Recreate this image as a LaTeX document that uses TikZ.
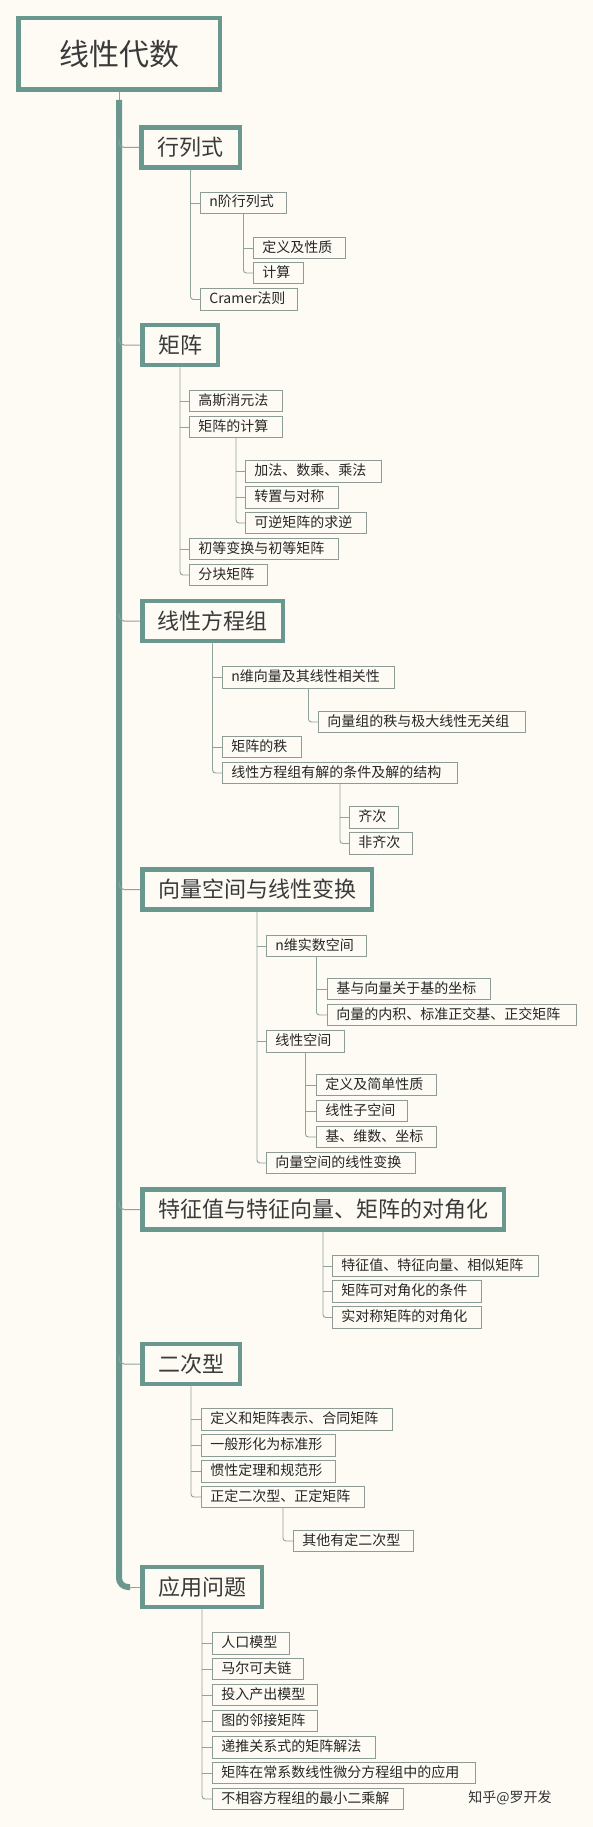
\documentclass[tikz,border=0pt]{standalone}
\usepackage{fontspec}
\setmainfont{Noto Sans CJK SC}
\usetikzlibrary{calc}
\definecolor{bg}{HTML}{FDFBF4}
\definecolor{teal1}{HTML}{6B988E}
\definecolor{subb}{HTML}{8D9C97}
\definecolor{lnk}{HTML}{8FA39C}
\definecolor{txt}{HTML}{3A3A3A}
\begin{document}
\begin{tikzpicture}[x=1pt,y=-1pt,
 l0/.style={draw=teal1, line width=4.5pt, fill=bg, minimum width=201.5pt, minimum height=71.5pt, inner sep=0pt, font=\fontsize{30}{30}\selectfont, text=txt},
 l1/.style={draw=teal1, line width=4.5pt, fill=bg, minimum height=40pt, minimum width=#1, inner sep=0pt, font=\fontsize{22}{22}\selectfont, text=txt},
 l2/.style={draw=subb, line width=0.9pt, fill=bg, anchor=west, text width=#1, align=left, inner xsep=9pt, inner ysep=0pt, minimum height=21.5pt, text height=11pt, text depth=3pt, font=\fontsize{14}{14}\selectfont, text=black!85},
 conn/.style={draw=lnk, line width=0.9pt, rounded corners=3pt},
 br/.style={draw=lnk, line width=1pt, rounded corners=5pt},
 trunk/.style={draw=teal1, line width=6pt, rounded corners=9pt},
]
\fill[bg] (0,0) rectangle (593,1827);
\useasboundingbox (0,0) rectangle (593,1827);

% root and level 1
\node[l0] (root) at (119,54) {线性代数};
\node[l1=98.5pt] (r1) at (190.5,147.5) {行列式};
\node[l1=75.5pt] (r2) at (180,345) {矩阵};
\node[l1=140.5pt] (r3) at (212.5,621) {线性方程组};
\node[l1=229.5pt] (r4) at (257,889.5) {向量空间与线性变换};
\node[l1=361.5pt] (r5) at (323,1209.5) {特征值与特征向量、矩阵的对角化};
\node[l1=97.5pt] (r6) at (191,1364) {二次型};
\node[l1=119.5pt] (r7) at (202,1587) {应用问题};

% trunk
\coordinate (ttop) at (119,100);
\draw[conn] (root.south) -- (ttop);
\draw[trunk] (ttop) |- ($(r7.west)+(-10,0)$);
\draw[conn] ($(r7.west)+(-11,0)$) -- (r7.west);
\foreach \r in {r1,r2,r3,r4,r5,r6}{
  \draw[br] ($(\r.west -| ttop)+(0,-8)$) |- (\r.west);
}

% 行列式
\node[l2=68pt] (a1) at (200,203) {n阶行列式};
\node[l2=74pt] (a11) at (253,248) {定义及性质};
\node[l2=32pt] (a12) at (253,273) {计算};
\node[l2=79pt] (a2) at (200,299.5) {Cramer法则};
\draw[conn] (r1.south) |- (a2.west);
\draw[conn] (r1.south |- a1.west) -- (a1.west);
\draw[conn] (a1.south) |- (a12.west);
\draw[conn] (a1.south |- a11.west) -- (a11.west);

% 矩阵
\node[l2=75pt] (b1) at (189,401) {高斯消元法};
\node[l2=75pt] (b2) at (189,427) {矩阵的计算};
\node[l2=118pt] (b21) at (245,471.5) {加法、数乘、乘法};
\node[l2=75pt] (b22) at (245,497.5) {转置与对称};
\node[l2=103pt] (b23) at (245,523) {可逆矩阵的求逆};
\node[l2=131pt] (b3) at (189,549) {初等变换与初等矩阵};
\node[l2=60pt] (b4) at (189,575) {分块矩阵};
\draw[conn] (r2.south) |- (b4.west);
\foreach \c in {b1,b2,b3}{\draw[conn] (r2.south |- \c.west) -- (\c.west);}
\draw[conn] (b2.south) |- (b23.west);
\foreach \c in {b21,b22}{\draw[conn] (b2.south |- \c.west) -- (\c.west);}

% 线性方程组
\node[l2=154pt] (c1) at (222,677.5) {n维向量及其线性相关性};
\node[l2=189pt] (c11) at (318,722) {向量组的秩与极大线性无关组};
\node[l2=61pt] (c2) at (222,747) {矩阵的秩};
\node[l2=217pt] (c3) at (222,773) {线性方程组有解的条件及解的结构};
\node[l2=31pt] (c31) at (349,817.5) {齐次};
\node[l2=45pt] (c32) at (349,843.5) {非齐次};
\draw[conn] (r3.south) |- (c3.west);
\foreach \c in {c1,c2}{\draw[conn] (r3.south |- \c.west) -- (\c.west);}
\draw[conn] (c1.south) |- (c11.west);
\draw[conn] (c3.south) |- (c32.west);
\draw[conn] (c3.south |- c31.west) -- (c31.west);

% 向量空间与线性变换
\node[l2=82pt] (d1) at (266,946) {n维实数空间};
\node[l2=145pt] (d11) at (327,989) {基与向量关于基的坐标};
\node[l2=231pt] (d12) at (327,1015) {向量的内积、标准正交基、正交矩阵};
\node[l2=60pt] (d2) at (266,1041.5) {线性空间};
\node[l2=102pt] (d21) at (316,1085) {定义及简单性质};
\node[l2=73pt] (d22) at (316,1111) {线性子空间};
\node[l2=102pt] (d23) at (316,1137) {基、维数、坐标};
\node[l2=131pt] (d3) at (266,1163) {向量空间的线性变换};
\draw[conn] (r4.south) |- (d3.west);
\foreach \c in {d1,d2}{\draw[conn] (r4.south |- \c.west) -- (\c.west);}
\draw[conn] (d1.south) |- (d12.west);
\draw[conn] (d1.south |- d11.west) -- (d11.west);
\draw[conn] (d2.south) |- (d23.west);
\foreach \c in {d21,d22}{\draw[conn] (d2.south |- \c.west) -- (\c.west);}

% 特征值
\node[l2=188pt] (e1) at (332,1266) {特征值、特征向量、相似矩阵};
\node[l2=131pt] (e2) at (332,1291.5) {矩阵可对角化的条件};
\node[l2=131pt] (e3) at (332,1317.5) {实对称矩阵的对角化};
\draw[conn] (r5.south) |- (e3.west);
\foreach \c in {e1,e2}{\draw[conn] (r5.south |- \c.west) -- (\c.west);}

% 二次型
\node[l2=173pt] (f1) at (201,1419.5) {定义和矩阵表示、合同矩阵};
\node[l2=116pt] (f2) at (201,1445.5) {一般形化为标准形};
\node[l2=116pt] (f3) at (201,1471.5) {惯性定理和规范形};
\node[l2=145pt] (f4) at (201,1497) {正定二次型、正定矩阵};
\node[l2=102pt] (f41) at (293,1541) {其他有定二次型};
\draw[conn] (r6.south) |- (f4.west);
\foreach \c in {f1,f2,f3}{\draw[conn] (r6.south |- \c.west) -- (\c.west);}
\draw[conn] (f4.south) |- (f41.west);

% 应用问题
\node[l2=59pt] (g1) at (212,1643.5) {人口模型};
\node[l2=73pt] (g2) at (212,1669) {马尔可夫链};
\node[l2=87pt] (g3) at (212,1695) {投入产出模型};
\node[l2=87pt] (g4) at (212,1721) {图的邻接矩阵};
\node[l2=145pt] (g5) at (212,1747.5) {递推关系式的矩阵解法};
\node[l2=245pt] (g6) at (212,1773) {矩阵在常系数线性微分方程组中的应用};
\node[l2=173pt] (g7) at (212,1799) {不相容方程组的最小二乘解};
\draw[conn] (r7.south) |- (g7.west);
\foreach \c in {g1,g2,g3,g4,g5,g6}{\draw[conn] (r7.south |- \c.west) -- (\c.west);}

\node[font=\fontsize{14}{14}\selectfont, text=black!80] (wm) at (510,1798) {知乎@罗开发};
\end{tikzpicture}
\end{document}
